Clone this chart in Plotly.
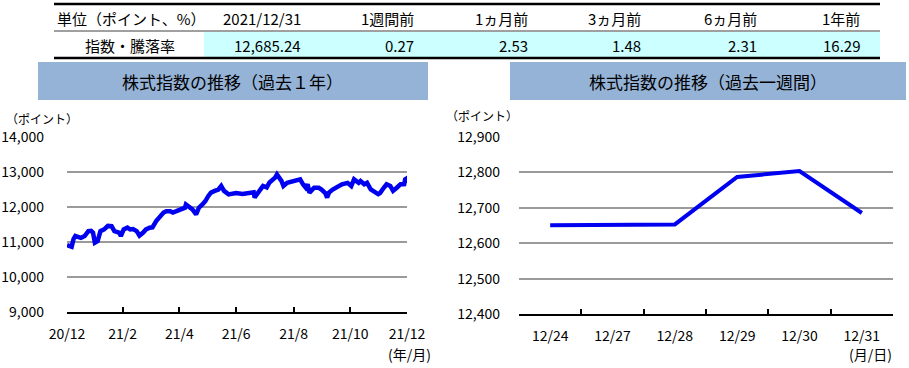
import plotly.graph_objects as go

# ---------------- data ----------------
year_dates = [
    "2020-12-30", "2021-01-04", "2021-01-06", "2021-01-08", "2021-01-14", "2021-01-18", "2021-01-22", "2021-01-25", "2021-01-27", "2021-01-29",
    "2021-02-01", "2021-02-04", "2021-02-08", "2021-02-12", "2021-02-16", "2021-02-19", "2021-02-24", "2021-02-26",
    "2021-03-01", "2021-03-05", "2021-03-08", "2021-03-11", "2021-03-15", "2021-03-18", "2021-03-22", "2021-03-25", "2021-03-29",
    "2021-04-01", "2021-04-05", "2021-04-09", "2021-04-13", "2021-04-16", "2021-04-20", "2021-04-23", "2021-04-27", "2021-04-30",
    "2021-05-06", "2021-05-07", "2021-05-11", "2021-05-14", "2021-05-18", "2021-05-21", "2021-05-25", "2021-05-28", "2021-05-31",
    "2021-06-03", "2021-06-07", "2021-06-11", "2021-06-14", "2021-06-17", "2021-06-22", "2021-06-30",
    "2021-07-07", "2021-07-12", "2021-07-19", "2021-07-20", "2021-07-26", "2021-07-29",
    "2021-08-02", "2021-08-05", "2021-08-11", "2021-08-13", "2021-08-18", "2021-08-20", "2021-08-24", "2021-08-31",
    "2021-09-07", "2021-09-10", "2021-09-13", "2021-09-15", "2021-09-17", "2021-09-22", "2021-09-27", "2021-09-30",
    "2021-10-04", "2021-10-06", "2021-10-08", "2021-10-12", "2021-10-15", "2021-10-19", "2021-10-22", "2021-10-28",
    "2021-11-01", "2021-11-04", "2021-11-09", "2021-11-11", "2021-11-15", "2021-11-18", "2021-11-22", "2021-11-30",
    "2021-12-02", "2021-12-06", "2021-12-09", "2021-12-13", "2021-12-16", "2021-12-20", "2021-12-23",
    "2021-12-24", "2021-12-27", "2021-12-28", "2021-12-29", "2021-12-30", "2021-12-31",
]
year_values = [
    10908, 10860, 11080, 11170, 11120, 11170, 11310, 11320, 11270, 10980,
    11030, 11310, 11360, 11460, 11450, 11310, 11270, 11170,
    11360, 11410, 11360, 11370, 11310, 11180, 11270, 11360, 11410,
    11420, 11600, 11740, 11840, 11880, 11880, 11840, 11890, 11930,
    11980, 12070, 11980, 11930, 11790, 11980, 12080, 12170, 12310,
    12410, 12460, 12500, 12600, 12460, 12360, 12400,
    12370, 12400, 12420, 12270, 12500, 12600,
    12560, 12700, 12840, 12930, 12740, 12600, 12690, 12740,
    12790, 12650, 12550, 12650, 12410, 12550, 12550, 12500,
    12400, 12270, 12410, 12500, 12550, 12600, 12650, 12690,
    12600, 12790, 12690, 12740, 12650, 12690, 12500, 12370,
    12400, 12550, 12650, 12600, 12460, 12550, 12620,
    12651, 12651, 12653, 12787, 12804, 12685.24,
]
year_tickvals = ["2020-12-30", "2021-02-28", "2021-04-30", "2021-06-30", "2021-08-31", "2021-10-31", "2021-12-31"]
year_ticktext = ["20/12", "21/2", "21/4", "21/6", "21/8", "21/10", "21/12"]

week_labels = ["12/24", "12/27", "12/28", "12/29", "12/30", "12/31"]
week_values = [12651, 12651, 12653, 12787, 12804, 12685.24]

table_corner = "単位（ポイント、%）"
table_row_label = "指数・騰落率"
table_columns = ["2021/12/31", "1週間前", "1ヵ月前", "3ヵ月前", "6ヵ月前", "1年前"]
table_values = ["12,685.24", "0.27", "2.53", "1.48", "2.31", "16.29"]

title_left = "株式指数の推移（過去１年）"
title_right = "株式指数の推移（過去一週間）"
unit_y = "（ポイント）"
unit_x_left = "(年/月)"
unit_x_right = "(月/日)"

# ---------------- layout helpers ----------------
W, H = 909, 368
FONT = "Noto Sans CJK JP"
LINE_COLOR = "#0000F0"
GRID = "#9A9A9A"
TITLE_BG = "#95B3D7"
CYAN = "#CCFFFF"


def px(x):
    return x / W


def py(y):
    return 1 - y / H


fig = go.Figure()

fig.add_trace(go.Scatter(x=year_dates, y=year_values, mode="lines",
                         line=dict(color=LINE_COLOR, width=4.5), xaxis="x", yaxis="y",
                         showlegend=False, hoverinfo="skip"))
fig.add_trace(go.Scatter(x=week_labels, y=week_values, mode="lines",
                         line=dict(color=LINE_COLOR, width=4), xaxis="x2", yaxis="y2",
                         showlegend=False, hoverinfo="skip"))

tickfont = dict(family=FONT, size=14, color="#000000")

fig.update_layout(
    width=W, height=H,
    margin=dict(l=0, r=0, t=0, b=0, autoexpand=False),
    paper_bgcolor="white", plot_bgcolor="white",
    xaxis=dict(domain=[px(67), px(407)], type="date", automargin=False,
               range=["2020-12-30", "2021-12-31"],
               tickmode="array", tickvals=year_tickvals, ticktext=year_ticktext,
               showgrid=False, showline=True, linecolor="black", linewidth=2,
               ticks="inside", ticklen=5, tickwidth=2, tickcolor="black",
               tickfont=tickfont, ticklabelstandoff=8, anchor="y"),
    yaxis=dict(domain=[py(312), py(137)], range=[9000, 14000], dtick=1000, automargin=False,
               tickformat=",d", showgrid=True, gridcolor=GRID, gridwidth=2,
               zeroline=False, showline=False, ticks="",
               tickfont=tickfont, ticklabelstandoff=22, anchor="x"),
    xaxis2=dict(domain=[px(519), px(893)], type="category", automargin=False,
                range=[-0.5, 5.5], tickson="boundaries",
                showgrid=False, showline=True, linecolor="black", linewidth=2,
                ticks="inside", ticklen=5, tickwidth=2, tickcolor="black",
                tickfont=tickfont, ticklabelstandoff=8, anchor="y2"),
    yaxis2=dict(domain=[py(314), py(137)], range=[12400, 12900], dtick=100, automargin=False,
                tickformat=",d", showgrid=True, gridcolor=GRID, gridwidth=2,
                zeroline=False, showline=False, ticks="",
                tickfont=tickfont, ticklabelstandoff=18, anchor="x2"),
)

shapes = []
annotations = []

# ---- table ----
tbl_left, tbl_right = 54, 880
row1_top, row_mid, row2_bot = 4, 31, 58
shapes.append(dict(type="rect", xref="paper", yref="paper",
                   x0=px(204), x1=px(tbl_right), y0=py(row2_bot - 1), y1=py(row_mid + 1),
                   fillcolor=CYAN, line=dict(width=0), layer="below"))
for yy, w, c in [(row1_top, 2.5, "black"), (row_mid, 1, "#404040"), (row2_bot, 2.5, "black")]:
    shapes.append(dict(type="line", xref="paper", yref="paper",
                       x0=px(tbl_left), x1=px(tbl_right), y0=py(yy), y1=py(yy),
                       line=dict(color=c, width=w)))

tfont = dict(family=FONT, size=15, color="#000000")
row1_y, row2_y = 18, 45
annotations.append(dict(text=table_corner, x=px(55), y=py(row1_y), xref="paper", yref="paper",
                        xanchor="left", yanchor="middle", showarrow=False, font=tfont))
annotations.append(dict(text=table_row_label, x=px(130), y=py(row2_y), xref="paper", yref="paper",
                        xanchor="center", yanchor="middle", showarrow=False, font=tfont))
col_right = [303, 416, 530, 643, 759, 862]
for xr, head, val in zip(col_right, table_columns, table_values):
    annotations.append(dict(text=head, x=px(xr), y=py(row1_y), xref="paper", yref="paper",
                            xanchor="right", yanchor="middle", showarrow=False, font=tfont))
    annotations.append(dict(text=val, x=px(xr), y=py(row2_y), xref="paper", yref="paper",
                            xanchor="right", yanchor="middle", showarrow=False, font=tfont))

# ---- chart title boxes ----
for (x0, x1, txt) in [(38, 428, title_left), (510, 906, title_right)]:
    shapes.append(dict(type="rect", xref="paper", yref="paper",
                       x0=px(x0), x1=px(x1), y0=py(100), y1=py(62),
                       fillcolor=TITLE_BG, line=dict(width=0), layer="below"))
    annotations.append(dict(text=txt, x=px((x0 + x1) / 2), y=py(81), xref="paper", yref="paper",
                            xanchor="center", yanchor="middle", showarrow=False,
                            font=dict(family=FONT, size=17, color="#000000")))

# ---- unit labels ----
ufont = dict(family=FONT, size=12, color="#000000")
annotations.append(dict(text=unit_y, x=px(4), y=py(118), xref="paper", yref="paper",
                        xanchor="left", yanchor="middle", showarrow=False, font=ufont))
annotations.append(dict(text=unit_y, x=px(444), y=py(115), xref="paper", yref="paper",
                        xanchor="left", yanchor="middle", showarrow=False, font=ufont))
annotations.append(dict(text=unit_x_left, x=px(433), y=py(354), xref="paper", yref="paper",
                        xanchor="right", yanchor="middle", showarrow=False, font=tickfont))
annotations.append(dict(text=unit_x_right, x=px(894), y=py(354), xref="paper", yref="paper",
                        xanchor="right", yanchor="middle", showarrow=False, font=tickfont))

fig.update_layout(shapes=shapes, annotations=annotations)

fig.write_html("out.html",
               config={"displayModeBar": False},
               post_script="document.body.style.margin='0';document.body.style.padding='0';"
                           "document.documentElement.style.overflow='hidden';")
